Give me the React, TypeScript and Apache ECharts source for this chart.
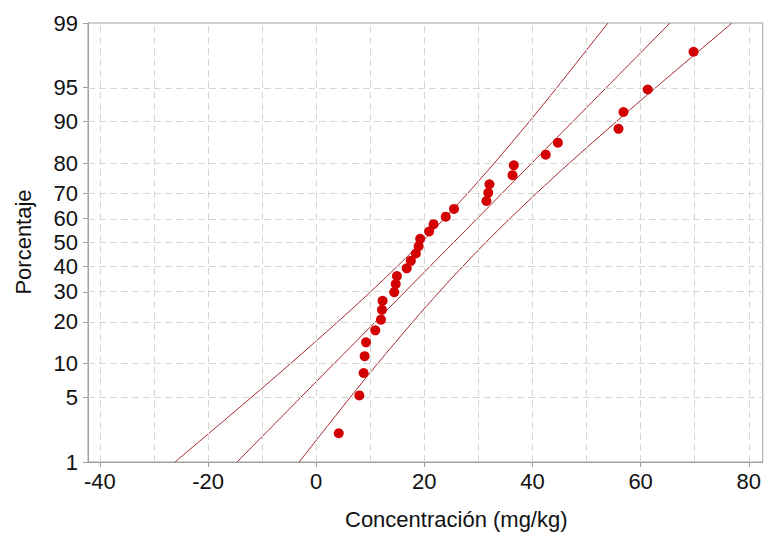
import React, { useEffect, useRef } from "react";
import * as echarts from "echarts";

// ---- data ----
const PERCENT_TICKS = [1, 5, 10, 20, 30, 40, 50, 60, 70, 80, 90, 95, 99];
const PERCENT_GRID = [5, 10, 20, 30, 40, 50, 60, 70, 80, 90, 95];
const X_TICKS = [-40, -20, 0, 20, 40, 60, 80];
const X_GRID = [-40, -30, -20, -10, 0, 10, 20, 30, 40, 50, 60, 70, 80];

const concentration = [
  4.17, 7.98, 8.77, 8.96, 9.22, 10.93, 11.98, 12.17, 12.28, 14.43, 14.71, 14.93,
  16.74, 17.51, 18.43, 18.95, 19.23, 20.88, 21.71, 23.96, 25.49, 31.48, 31.82,
  32.04, 36.31, 36.55, 42.45, 44.7, 55.91, 56.83, 61.31, 69.79,
];
const percent = [
  2.16, 5.25, 8.33, 11.42, 14.51, 17.59, 20.68, 23.77, 26.85, 29.94, 33.02, 36.11,
  39.2, 42.28, 45.37, 48.46, 51.54, 54.63, 57.72, 60.8, 63.89, 66.98, 70.06,
  73.15, 76.23, 79.32, 82.41, 85.49, 88.58, 91.67, 94.75, 97.84,
];

const bandPercent = [1, 5, 10, 20, 30, 40, 50, 60, 70, 80, 90, 95, 99];
const fitX = [-14.63, -2.91, 3.34, 10.92, 16.38, 21.04, 25.4, 29.76, 34.42, 39.88, 47.46, 53.71, 65.43];
const bandLower = [-26.11, -12.06, -4.71, 3.98, 10.02, 14.98, 19.44, 23.7, 28.06, 32.94, 39.41, 44.56, 53.95];
const bandUpper = [-3.15, 6.24, 11.39, 17.86, 22.74, 27.1, 31.36, 35.82, 40.78, 46.82, 55.51, 62.86, 76.91];

// inverse standard normal CDF (Acklam) — probability-scale transform
function probit(p: number): number {
  const a = [-3.969683028665376e1, 2.209460984245205e2, -2.759285104469687e2, 1.38357751867269e2, -3.066479806614716e1, 2.506628277459239];
  const b = [-5.447609879822406e1, 1.615858368580409e2, -1.556989798598866e2, 6.680131188771972e1, -1.328068155288572e1];
  const c = [-7.784894002430293e-3, -3.223964580411365e-1, -2.400758277161838, -2.549732539343734, 4.374664141464968, 2.938163982698783];
  const d = [7.784695709041462e-3, 3.224671290700398e-1, 2.445134137142996, 3.754408661907416];
  const pl = 0.02425;
  if (p < pl) {
    const q = Math.sqrt(-2 * Math.log(p));
    return (((((c[0] * q + c[1]) * q + c[2]) * q + c[3]) * q + c[4]) * q + c[5]) / ((((d[0] * q + d[1]) * q + d[2]) * q + d[3]) * q + 1);
  }
  if (p > 1 - pl) {
    const q = Math.sqrt(-2 * Math.log(1 - p));
    return -(((((c[0] * q + c[1]) * q + c[2]) * q + c[3]) * q + c[4]) * q + c[5]) / ((((d[0] * q + d[1]) * q + d[2]) * q + d[3]) * q + 1);
  }
  const q = p - 0.5;
  const r = q * q;
  return ((((((a[0] * r + a[1]) * r + a[2]) * r + a[3]) * r + a[4]) * r + a[5]) * q) / (((((b[0] * r + b[1]) * r + b[2]) * r + b[3]) * r + b[4]) * r + 1);
}
const zOf = (pct: number) => probit(pct / 100);

const FONT = "'Liberation Sans', Arial, sans-serif";
const LINE_COLOR = "#a8262c";
const DOT_COLOR = "#d20000";
const AXIS_COLOR = "#a0a0a0";
const GRID_COLOR = "#d6d6d6";

export default function App() {
  const ref = useRef<HTMLDivElement>(null);
  useEffect(() => {
    if (!ref.current) return;
    const chart = echarts.init(ref.current, null, { renderer: "svg" });
    const yTickZ = PERCENT_TICKS.map(zOf);
    const lineSeries = (name: string, xs: number[]) => ({
      name,
      type: "line",
      data: bandPercent.map((p, i) => [xs[i], zOf(p)]),
      showSymbol: false,
      smooth: 0.3,
      lineStyle: { color: LINE_COLOR, width: 1 },
      z: 3,
    });
    const option = {
      animation: false,
      backgroundColor: "#ffffff",
      grid: {
        left: 88,
        top: 23,
        width: 677,
        height: 439,
        show: true,
        borderColor: AXIS_COLOR,
        borderWidth: 1,
        backgroundColor: "transparent",
      },
      xAxis: {
        type: "value",
        min: -42.2,
        max: 82.59,
        axisLine: { show: true, onZero: false, lineStyle: { color: AXIS_COLOR, width: 1 } },
        axisTick: { show: true, length: 5, lineStyle: { color: AXIS_COLOR }, customValues: X_TICKS },
        axisLabel: {
          customValues: X_TICKS,
          margin: 8,
          fontSize: 22,
          fontFamily: FONT,
          color: "#111",
        },
        splitLine: { show: false },
      },
      yAxis: {
        type: "value",
        min: zOf(1),
        max: zOf(99),
        axisLine: { show: true, onZero: false, lineStyle: { color: AXIS_COLOR, width: 1 } },
        axisTick: { show: true, length: 5, lineStyle: { color: AXIS_COLOR }, customValues: yTickZ },
        axisLabel: {
          customValues: yTickZ,
          margin: 10,
          fontSize: 22,
          fontFamily: FONT,
          color: "#111",
          formatter: (v: number) => {
            let best = PERCENT_TICKS[0];
            let bd = Infinity;
            PERCENT_TICKS.forEach((t) => {
              const dd = Math.abs(zOf(t) - v);
              if (dd < bd) { bd = dd; best = t; }
            });
            return String(best);
          },
        },
        splitLine: { show: false },
      },
      graphic: [
        {
          type: "text",
          left: 345,
          top: 508,
          style: { text: "Concentración (mg/kg)", fontSize: 22, fontFamily: FONT, fill: "#111" },
        },
        {
          type: "text",
          x: 23,
          y: 242,
          rotation: Math.PI / 2,
          style: { text: "Porcentaje", fontSize: 22, fontFamily: FONT, fill: "#111", align: "center", verticalAlign: "middle" },
        },
      ],
      series: [
        {
          name: "grid",
          type: "line",
          data: [[-40, 0]],
          showSymbol: false,
          lineStyle: { width: 0 },
          silent: true,
          z: 1,
          markLine: {
            silent: true,
            symbol: ["none", "none"],
            label: { show: false },
            lineStyle: { type: [7, 4], color: GRID_COLOR, width: 1 },
            data: [
              ...X_GRID.map((x) => ({ xAxis: x })),
              ...PERCENT_GRID.map((p) => ({ yAxis: zOf(p) })),
            ],
          },
        },
        lineSeries("lower", bandLower),
        lineSeries("fit", fitX),
        lineSeries("upper", bandUpper),
        {
          name: "data",
          type: "scatter",
          data: concentration.map((x, i) => [x, zOf(percent[i])]),
          symbol: "circle",
          symbolSize: 10,
          itemStyle: { color: DOT_COLOR, opacity: 1 },
          z: 5,
        },
      ],
    };
    chart.setOption(option as any);
    return () => chart.dispose();
  }, []);
  return (
    <div
      ref={ref}
      style={{ position: "fixed", left: 0, top: 0, width: 764, height: 533, background: "#fff" }}
    />
  );
}
